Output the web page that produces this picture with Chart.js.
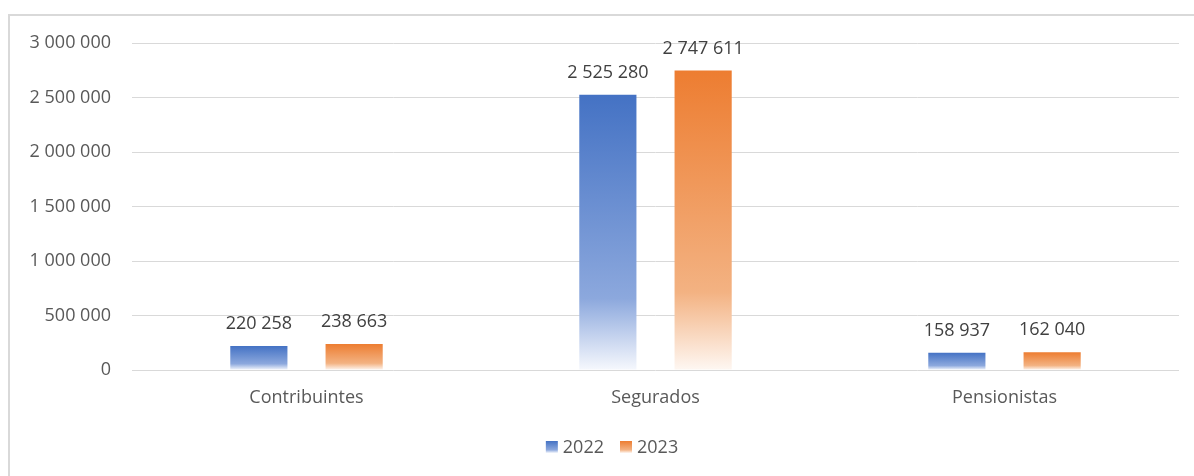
<!DOCTYPE html>
<html>
<head>
<meta charset="utf-8">
<script src="https://cdn.jsdelivr.net/npm/chart.js@4"></script>
<style>
  html, body { margin: 0; padding: 0; background: #fff; }
  #wrap { position: relative; width: 1194px; height: 476px; overflow: hidden; }
  #frame { position: absolute; left: 8px; top: 14px; width: 1200px; height: 500px;
           border-left: 2px solid #d9d9d9; border-top: 2px solid #d9d9d9; box-sizing: border-box; }
  canvas { position: absolute; left: 0; top: 0; }
</style>
</head>
<body>
<div id="wrap">
  <div id="frame"></div>
  <canvas id="c" width="1194" height="476"></canvas>
</div>
<script>
const categories = ["Contribuintes", "Segurados", "Pensionistas"];
const seriesNames = ["2022", "2023"];
const values2022 = [220258, 2525280, 158937];
const values2023 = [238663, 2747611, 162040];
const yTicks = [0, 500000, 1000000, 1500000, 2000000, 2500000, 3000000];

const palettes = {
  "2022": ["rgb(68,114,196)", "rgb(140,168,221)", "rgb(246,248,253)"],
  "2023": ["rgb(237,125,49)", "rgb(243,178,130)", "rgb(254,247,242)"]
};

function fmt(v) {
  return String(Math.round(v)).replace(/\B(?=(\d{3})+(?!\d))/g, " ");
}

function makeGrad(ctx2d, top, bottom, pal) {
  const g = ctx2d.createLinearGradient(0, top, 0, bottom);
  g.addColorStop(0, pal[0]);
  g.addColorStop(0.74, pal[1]);
  g.addColorStop(1, pal[2]);
  return g;
}

function barBg(name) {
  return function(ctx) {
    const chart = ctx.chart;
    const pal = palettes[name];
    if (!chart.chartArea || ctx.type !== 'data') return pal[0];
    const y = chart.scales.y;
    const top = y.getPixelForValue(ctx.raw);
    const bot = y.getPixelForValue(0);
    return makeGrad(chart.ctx, top, bot, pal);
  };
}

const FONT = "'Open Sans', sans-serif";

const labelPlugin = {
  id: 'valueLabels',
  afterDatasetsDraw(chart) {
    const c = chart.ctx;
    c.save();
    c.font = "18px " + FONT;
    c.fillStyle = "#404040";
    c.textAlign = "center";
    c.textBaseline = "middle";
    chart.data.datasets.forEach((ds, di) => {
      const meta = chart.getDatasetMeta(di);
      meta.data.forEach((bar, i) => {
        c.fillText(fmt(ds.data[i]), bar.x, bar.y - 22);
      });
    });
    c.restore();
  }
};

// Custom bottom legend (Excel-like spacing)
const legendPlugin = {
  id: 'excelLegend',
  afterDraw(chart) {
    const c = chart.ctx;
    const box = 12, gapText = 5, gapItem = 16;
    c.save();
    c.font = "18px " + FONT;
    c.textBaseline = "middle";
    c.textAlign = "left";
    const widths = seriesNames.map(n => c.measureText(n).width);
    let total = 0;
    widths.forEach((w, i) => { total += box + gapText + w + (i < widths.length - 1 ? gapItem : 0); });
    const cx = chart.width / 2 + 15;
    const cy = chart.chartArea.bottom + 77;
    let x = cx - total / 2;
    seriesNames.forEach((n, i) => {
      c.fillStyle = makeGrad(c, cy - 6, cy + 6, palettes[n]);
      c.fillRect(x, cy - 6, box, box);
      x += box + gapText;
      c.fillStyle = "#595959";
      c.fillText(n, x, cy + 1);
      x += widths[i] + gapItem;
    });
    c.restore();
  }
};

new Chart(document.getElementById('c'), {
  type: 'bar',
  data: {
    labels: categories,
    datasets: [
      { label: seriesNames[0], data: values2022, backgroundColor: barBg("2022"), borderWidth: 0 },
      { label: seriesNames[1], data: values2023, backgroundColor: barBg("2023"), borderWidth: 0 }
    ]
  },
  options: {
    responsive: false,
    animation: false,
    devicePixelRatio: 1,
    categoryPercentage: 0.546,
    barPercentage: 0.6,
    layout: { padding: { left: 0, right: 15, top: 43, bottom: 48 } },
    plugins: {
      legend: { display: false },
      tooltip: { enabled: false }
    },
    scales: {
      x: {
        grid: { display: false, drawTicks: false },
        border: { display: false },
        ticks: { color: '#595959', font: { family: FONT, size: 18 }, padding: 17 },
        afterFit(s) { s.height = 58; }
      },
      y: {
        min: 0, max: 3000000,
        afterBuildTicks(s) { s.ticks = yTicks.map(v => ({ value: v })); },
        grid: { color: '#d9d9d9', lineWidth: 1, drawTicks: false },
        border: { display: false },
        ticks: { color: '#595959', font: { family: FONT, size: 18 }, padding: 21,
                 callback: (v) => fmt(v) },
        afterFit(s) { s.width = 132; }
      }
    }
  },
  plugins: [labelPlugin, legendPlugin]
});
</script>
</body>
</html>
